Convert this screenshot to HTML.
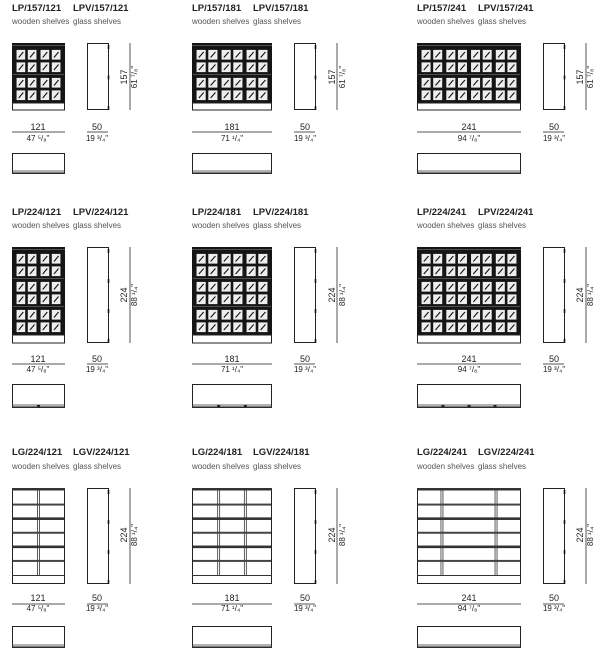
<!DOCTYPE html>
<html><head><meta charset="utf-8"><style>
body{margin:0;background:#fff;width:605px;height:651px;overflow:hidden}
svg{display:block}
text{font-family:"Liberation Sans",sans-serif;fill:#222}
.t{font-size:9.5px;font-weight:bold}
.s{font-size:8px;fill:#555}
.d{font-size:9px}
.f{font-size:8px}
</style></head><body>
<svg id="s" width="605" height="651" xmlns="http://www.w3.org/2000/svg">
<g id="g"></g>
<text class="t" x="12" y="11">LP/157/121</text><text class="t" x="73" y="11">LPV/157/121</text>
<text class="s" x="12" y="24">wooden shelves</text><text class="s" x="73" y="24">glass shelves</text>
<text class="t" x="192" y="11">LP/157/181</text><text class="t" x="253" y="11">LPV/157/181</text>
<text class="s" x="192" y="24">wooden shelves</text><text class="s" x="253" y="24">glass shelves</text>
<text class="t" x="417" y="11">LP/157/241</text><text class="t" x="478" y="11">LPV/157/241</text>
<text class="s" x="417" y="24">wooden shelves</text><text class="s" x="478" y="24">glass shelves</text>
<text class="t" x="12" y="215">LP/224/121</text><text class="t" x="73" y="215">LPV/224/121</text>
<text class="s" x="12" y="228">wooden shelves</text><text class="s" x="73" y="228">glass shelves</text>
<text class="t" x="192" y="215">LP/224/181</text><text class="t" x="253" y="215">LPV/224/181</text>
<text class="s" x="192" y="228">wooden shelves</text><text class="s" x="253" y="228">glass shelves</text>
<text class="t" x="417" y="215">LP/224/241</text><text class="t" x="478" y="215">LPV/224/241</text>
<text class="s" x="417" y="228">wooden shelves</text><text class="s" x="478" y="228">glass shelves</text>
<text class="t" x="12" y="455">LG/224/121</text><text class="t" x="73" y="455">LGV/224/121</text>
<text class="s" x="12" y="469">wooden shelves</text><text class="s" x="73" y="469">glass shelves</text>
<text class="t" x="192" y="455">LG/224/181</text><text class="t" x="253" y="455">LGV/224/181</text>
<text class="s" x="192" y="469">wooden shelves</text><text class="s" x="253" y="469">glass shelves</text>
<text class="t" x="417" y="455">LG/224/241</text><text class="t" x="478" y="455">LGV/224/241</text>
<text class="s" x="417" y="469">wooden shelves</text><text class="s" x="478" y="469">glass shelves</text>

<g text-anchor="middle">
<text class="d" x="38" y="130">121</text><text class="f" x="38" y="141">47 ⁵/₈"</text>
<text class="d" x="97" y="130">50</text><text class="f" x="97" y="141">19 ³/₄"</text>
<text class="d" x="232" y="130">181</text><text class="f" x="232" y="141">71 ¹/₄"</text>
<text class="d" x="305" y="130">50</text><text class="f" x="305" y="141">19 ³/₄"</text>
<text class="d" x="469" y="130">241</text><text class="f" x="469" y="141">94 ⁷/₈"</text>
<text class="d" x="554" y="130">50</text><text class="f" x="554" y="141">19 ³/₄"</text>

<text class="d" x="38" y="362">121</text><text class="f" x="38" y="372">47 ⁵/₈"</text>
<text class="d" x="97" y="362">50</text><text class="f" x="97" y="372">19 ³/₄"</text>
<text class="d" x="232" y="362">181</text><text class="f" x="232" y="372">71 ¹/₄"</text>
<text class="d" x="305" y="362">50</text><text class="f" x="305" y="372">19 ³/₄"</text>
<text class="d" x="469" y="362">241</text><text class="f" x="469" y="372">94 ⁷/₈"</text>
<text class="d" x="554" y="362">50</text><text class="f" x="554" y="372">19 ³/₄"</text>

<text class="d" x="38" y="601">121</text><text class="f" x="38" y="611">47 ⁵/₈"</text>
<text class="d" x="97" y="601">50</text><text class="f" x="97" y="611">19 ³/₄"</text>
<text class="d" x="232" y="601">181</text><text class="f" x="232" y="611">71 ¹/₄"</text>
<text class="d" x="305" y="601">50</text><text class="f" x="305" y="611">19 ³/₄"</text>
<text class="d" x="469" y="601">241</text><text class="f" x="469" y="611">94 ⁷/₈"</text>
<text class="d" x="554" y="601">50</text><text class="f" x="554" y="611">19 ³/₄"</text>
</g>
<g text-anchor="middle">
<text class="d" transform="translate(127,77) rotate(-90)">157</text><text class="f" transform="translate(137,77) rotate(-90)">61 ⁷/₈"</text>
<text class="d" transform="translate(335,77) rotate(-90)">157</text><text class="f" transform="translate(345,77) rotate(-90)">61 ⁷/₈"</text>
<text class="d" transform="translate(583,77) rotate(-90)">157</text><text class="f" transform="translate(593,77) rotate(-90)">61 ⁷/₈"</text>
<text class="d" transform="translate(127,295) rotate(-90)">224</text><text class="f" transform="translate(137,295) rotate(-90)">88 ¹/₄"</text>
<text class="d" transform="translate(335,295) rotate(-90)">224</text><text class="f" transform="translate(345,295) rotate(-90)">88 ¹/₄"</text>
<text class="d" transform="translate(583,295) rotate(-90)">224</text><text class="f" transform="translate(593,295) rotate(-90)">88 ¹/₄"</text>
<text class="d" transform="translate(127,535) rotate(-90)">224</text><text class="f" transform="translate(137,535) rotate(-90)">88 ¹/₄"</text>
<text class="d" transform="translate(335,535) rotate(-90)">224</text><text class="f" transform="translate(345,535) rotate(-90)">88 ¹/₄"</text>
<text class="d" transform="translate(583,535) rotate(-90)">224</text><text class="f" transform="translate(593,535) rotate(-90)">88 ¹/₄"</text>
</g>
</svg>
<script>
var g=document.getElementById('g'),h='';
function R(x,y,w,hh,f,s,sw){h+='<rect x="'+x+'" y="'+y+'" width="'+w+'" height="'+hh+'" fill="'+(f||'none')+'" stroke="'+(s||'none')+'" stroke-width="'+(sw||1)+'"/>';}
function L(x1,y1,x2,y2,c,w){h+='<line x1="'+x1+'" y1="'+y1+'" x2="'+x2+'" y2="'+y2+'" stroke="'+(c||'#222')+'" stroke-width="'+(w||1)+'"/>';}
var cols=[{x:12,w:53,sx:87,dx:130,n:4,g:2},{x:192,w:80,sx:294,dx:337,n:6,g:3},{x:417,w:104,sx:543,dx:586,n:8,g:4}];
var rows=[{y:43,b:103,e:110,sec:2,lab:132,py:153,ph:21},{y:247,b:335,e:343,sec:3,lab:364,py:384,ph:24},{y:488,b:575,e:584,sec:3,lab:604,py:626,ph:22}];
rows.forEach(function(r,ri){cols.forEach(function(c,ci){
 var x=c.x,w=c.w;
 if(ri<2){
  R(x,r.y,w,r.b-r.y,'#151515');
  L(x,r.y+2.5,x+w,r.y+2.5,'#666',0.8);
  var top=r.y+4,sh=(r.b-top)/r.sec;
  for(var s=0;s<r.sec;s++){
   var sy=top+s*sh;
   if(s>0)L(x+1,sy-0.5,x+w-1,sy-0.5,'#666',0.8);
   var pad=2.5,dw=(w-2*pad)/c.g,chh=(sh-3)/2;
   for(var d=0;d<c.g;d++)for(var i=0;i<2;i++)for(var j=0;j<2;j++){
     var cw=(dw-1.5)/2;
     var cx=x+pad+d*dw+0.75+i*cw+1.3,cy=sy+1.5+j*chh+1.4,ww=cw-2.6,hh=chh-2.8;
     R(cx,cy,ww,hh,'#eeeeee');
     L(cx+ww*0.25,cy+hh*0.78,cx+ww*0.78,cy+hh*0.22,'#111',1.1);
   }
  }
  R(x+0.5,r.b,w-1,r.e-r.b,'#fff','#222',1);
 } else {
  R(x+0.5,r.y+0.5,w-1,r.e-r.y-1,'#fff','#222',1);
  R(x,r.y,w,2.5,'#333');
  var top=r.y+2.5,bot=r.b,sh=(bot-top)/3;
  var dv=ci==0?[x+w/2]:ci==1?[x+w/3,x+2*w/3]:[x+w*0.24,x+w*0.76];
  dv.forEach(function(d){L(d-1,top,d-1,bot,'#333',0.8);L(d+1,top,d+1,bot,'#333',0.8);});
  for(var s=0;s<3;s++){var sy=top+s*sh;
   if(s>0)R(x+1,sy-1.3,w-2,2.6,'#333');
   R(x+1,sy+sh/2-1,w-2,2,'#444');}
  L(x,bot+0.5,x+w,bot+0.5,'#333',1);
 }
 R(c.sx+0.5,r.y+0.5,21,r.e-r.y-1,'#fff','#222',1);
 var n=ri==0?2:3;
 for(var k=0;k<=n;k++){var yy=r.y+2+k*(r.e-r.y-6)/n;L(c.sx+21.5,yy,c.sx+21.5,yy+4,'#111',1.6);}
 L(c.dx,r.y,c.dx,r.e,'#555',1);
 L(x,r.lab,x+w,r.lab,'#555',1);
 L(c.sx,r.lab,c.sx+21,r.lab,'#555',1);
 R(x+0.5,r.py+0.5,w-1,r.ph-1,'#fff','#222',1);
 L(x,r.py+r.ph-3,x+w,r.py+r.ph-3,'#333',0.8);
 L(x,r.py+r.ph-1,x+w,r.py+r.ph-1,'#333',1.2);
 if(ri==1){for(var q=1;q<c.g;q++)R(x+q*w/c.g-1.5,r.py+r.ph-3,3,2,'#222');}
});});
g.innerHTML=h;
</script>
</body></html>
